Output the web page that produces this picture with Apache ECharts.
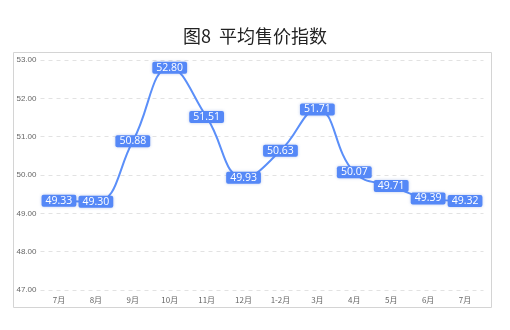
<!DOCTYPE html>
<html>
<head>
<meta charset="utf-8">
<script src="https://cdn.jsdelivr.net/npm/echarts@6/dist/echarts.min.js"></script>
<style>
html,body{margin:0;padding:0;background:#fff;}
#chart{width:510px;height:330px;}
</style>
</head>
<body>
<div id="chart"></div>
<script>
// 月份与平均售价指数
const months = ['7月','8月','9月','10月','11月','12月','1-2月','3月','4月','5月','6月','7月'];
const priceIndex = [49.33, 49.30, 50.88, 52.80, 51.51, 49.93, 50.63, 51.71, 50.07, 49.71, 49.39, 49.32];
const yTicks = { min: 47, max: 53, step: 1 };

const chart = echarts.init(document.getElementById('chart'), null, { renderer: 'canvas' });
const blue = '#5b8ff9';

chart.setOption({
  animation: false,
  backgroundColor: '#fff',
  title: {
    text: '图8  平均售价指数',
    left: 'center',
    top: 22,
    textStyle: { fontFamily: 'Noto Sans CJK SC', fontSize: 18, fontWeight: 'normal', color: '#222' }
  },
  graphic: [{
    type: 'rect',
    shape: { x: 13.5, y: 52.5, width: 478, height: 255 },
    style: { fill: 'none', stroke: '#d4d4d4', lineWidth: 1 },
    z: -1
  }],
  grid: { left: 40.5, right: 26.5, top: 60, bottom: 40 },
  xAxis: {
    type: 'category',
    data: months,
    boundaryGap: true,
    axisLine: { show: false },
    axisTick: { show: false },
    axisLabel: { fontSize: 8, color: '#666', margin: 6, fontFamily: 'Noto Sans CJK SC' }
  },
  yAxis: {
    type: 'value',
    min: yTicks.min,
    max: yTicks.max,
    interval: yTicks.step,
    axisLine: { show: false },
    axisTick: { show: false },
    axisLabel: {
      fontSize: 8, color: '#666', margin: 4,
      formatter: v => v.toFixed(2)
    },
    splitLine: { lineStyle: { type: [4, 4], color: '#e2e2e2', width: 1 } }
  },
  series: [{
    type: 'line',
    data: priceIndex,
    smooth: 0.45,
    symbol: 'circle',
    symbolSize: 2,
    showSymbol: true,
    itemStyle: { color: 'rgba(0,0,0,0)' },
    lineStyle: { color: blue, width: 2 },
    labelLayout: { hideOverlap: false },
    label: {
      show: true,
      position: 'inside',
      formatter: p => Number(p.value).toFixed(2),
      color: '#fff',
      fontSize: 10.5,
      fontFamily: 'Open Sans',
      backgroundColor: '#5588f7',
      borderRadius: 2,
      padding: [1, 4, 0, 4],
      shadowColor: 'rgba(60,100,200,0.35)',
      shadowBlur: 3
    }
  }]
});
</script>
</body>
</html>
